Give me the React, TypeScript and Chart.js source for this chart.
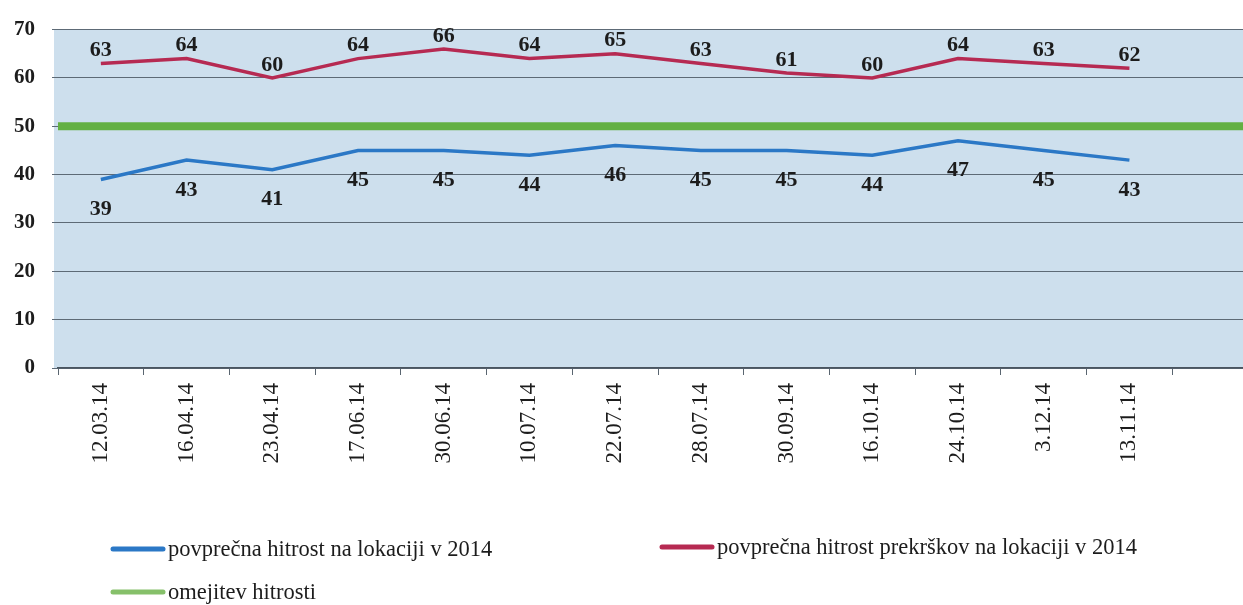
import { useEffect, useRef } from "react";
import { Chart, registerables } from "chart.js";

Chart.register(...registerables);

const dates = [
  "12.03.14", "16.04.14", "23.04.14", "17.06.14", "30.06.14", "10.07.14", "22.07.14",
  "28.07.14", "30.09.14", "16.10.14", "24.10.14", "3.12.14", "13.11.14", "",
];
const avgSpeed = [39, 43, 41, 45, 45, 44, 46, 45, 45, 44, 47, 45, 43];
const avgViolationSpeed = [63, 64, 60, 64, 66, 64, 65, 63, 61, 60, 64, 63, 62];
const speedLimit = 50;
const yMin = 0;
const yMax = 70;
const yStep = 10;
const seriesNames = [
  "povprečna hitrost na lokaciji v 2014",
  "povprečna hitrost prekrškov na lokaciji v 2014",
  "omejitev hitrosti",
];

const BLUE = "#2b78c6";
const RED = "#b62a52";
const GREEN = "#63b043";
const SERIF = "'Liberation Serif', 'Times New Roman', serif";

const bgPlugin = {
  id: "plotBg",
  beforeDraw(chart: any) {
    const { ctx, chartArea } = chart;
    ctx.save();
    ctx.fillStyle = "#cddfed";
    ctx.fillRect(chartArea.left - 4, chartArea.top, chartArea.right - chartArea.left + 4, chartArea.bottom - chartArea.top);
    ctx.restore();
  },
};

const labelPlugin = {
  id: "valueLabels",
  afterDatasetsDraw(chart: any) {
    const { ctx } = chart;
    ctx.save();
    ctx.font = `bold 22px ${SERIF}`;
    ctx.fillStyle = "#1c1c1c";
    ctx.textAlign = "center";
    ctx.textBaseline = "middle";
    chart.data.datasets.forEach((ds: any, di: number) => {
      if (ds.labelShift === undefined) return;
      const meta = chart.getDatasetMeta(di);
      meta.data.forEach((pt: any, i: number) => {
        const v = ds.data[i];
        if (v === null || v === undefined) return;
        ctx.fillText(String(v), pt.x, pt.y + ds.labelShift);
      });
    });
    ctx.restore();
  },
};

const legendPlugin = {
  id: "customLegend",
  afterDraw(chart: any) {
    const { ctx } = chart;
    const items = [
      { name: seriesNames[0], color: BLUE, x: 113, y: 549 },
      { name: seriesNames[1], color: RED, x: 662, y: 547 },
      { name: seriesNames[2], color: "#86c06a", x: 113, y: 592 },
    ];
    ctx.save();
    ctx.font = `22.5px ${SERIF}`;
    ctx.textBaseline = "middle";
    ctx.textAlign = "left";
    items.forEach((it) => {
      ctx.strokeStyle = it.color;
      ctx.lineWidth = 5;
      ctx.lineCap = "round";
      ctx.beginPath();
      ctx.moveTo(it.x, it.y);
      ctx.lineTo(it.x + 50, it.y);
      ctx.stroke();
      ctx.fillStyle = "#1c1c1c";
      ctx.fillText(it.name, it.x + 55, it.y + 1);
    });
    ctx.restore();
  },
};

export default function App() {
  const ref = useRef<HTMLCanvasElement | null>(null);

  useEffect(() => {
    if (!ref.current) return;
    const chart = new Chart(ref.current, {
      type: "line",
      data: {
        labels: dates,
        datasets: [
          {
            label: seriesNames[0],
            data: avgSpeed,
            borderColor: BLUE,
            borderWidth: 3.5,
            pointRadius: 0,
            tension: 0,
            xAxisID: "x",
            labelShift: 30,
          } as any,
          {
            label: seriesNames[1],
            data: avgViolationSpeed,
            borderColor: RED,
            borderWidth: 3.5,
            pointRadius: 0,
            tension: 0,
            xAxisID: "x",
            labelShift: -13,
          } as any,
          {
            label: seriesNames[2],
            data: [
              { x: 0, y: speedLimit },
              { x: 1, y: speedLimit },
            ],
            borderColor: GREEN,
            borderWidth: 8,
            pointRadius: 0,
            tension: 0,
            xAxisID: "x2",
          } as any,
        ],
      },
      options: {
        animation: false,
        responsive: false,
        layout: { padding: { top: 23, right: 4, bottom: 0, left: 0 } },
        plugins: {
          legend: { display: false },
          tooltip: { enabled: false },
        },
        scales: {
          x: {
            type: "category",
            offset: true,
            grid: {
              drawOnChartArea: false,
              drawTicks: true,
              tickLength: 7,
              color: "#5a6570",
              offset: true,
            },
            border: { display: true, color: "#4a5560", width: 1.5 },
            ticks: {
              autoSkip: false,
              maxRotation: 90,
              minRotation: 90,
              padding: 8,
              color: "#1c1c1c",
              font: { family: SERIF, size: 23 },
            },
            afterFit(scale: any) {
              scale.height = 237;
            },
          },
          x2: {
            type: "linear",
            min: 0,
            max: 1,
            display: false,
          },
          y: {
            min: yMin,
            max: yMax,
            ticks: {
              stepSize: yStep,
              padding: 17,
              color: "#1c1c1c",
              font: { family: SERIF, size: 21, weight: "bold" },
            },
            grid: {
              color: "#5d6a76",
              lineWidth: 1,
              tickLength: 6,
            },
            border: { display: false },
            afterFit(scale: any) {
              scale.width = 58;
            },
          },
        },
      } as any,
      plugins: [bgPlugin, labelPlugin, legendPlugin],
    });
    return () => chart.destroy();
  }, []);

  return (
    <div style={{ position: "fixed", left: 0, top: 0, width: 1243, height: 605, overflow: "hidden", background: "#fff" }}>
      <canvas ref={ref} width={1262} height={605} style={{ display: "block" }} />
    </div>
  );
}
